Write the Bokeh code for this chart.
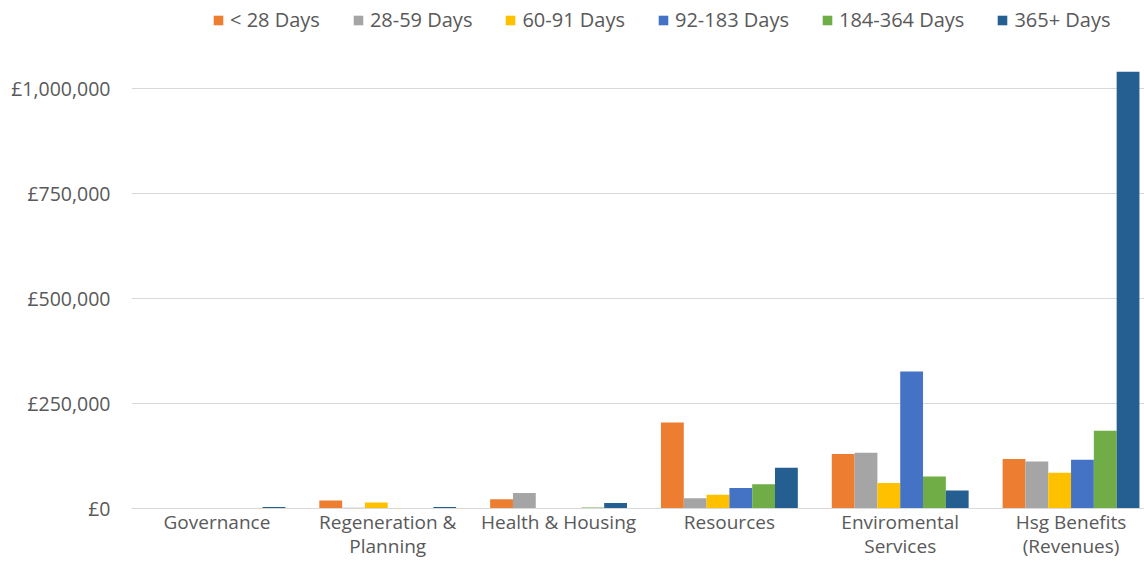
from bokeh.plotting import figure
from bokeh.models import ColumnDataSource, FixedTicker, Legend, LegendItem, Range1d
from bokeh.transform import dodge
from bokeh.embed import file_html
from bokeh.resources import INLINE

# ---- data ----
categories = ["Governance", "Regeneration &\nPlanning", "Health & Housing",
              "Resources", "Enviromental\nServices", "Hsg Benefits\n(Revenues)"]
series_names = ["< 28 Days", "28-59 Days", "60-91 Days", "92-183 Days", "184-364 Days", "365+ Days"]
lt_28 = [0, 19000, 22000, 205000, 130000, 118000]
d_28_59 = [0, 2000, 37000, 24500, 133000, 112000]
d_60_91 = [0, 14000, 0, 33000, 61000, 85000]
d_92_183 = [0, 0, 0, 49000, 326000, 116000]
d_184_364 = [0, 0, 2500, 58000, 76000, 185000]
d_365_plus = [3500, 3500, 13000, 97000, 43000, 1040000]
y_ticks = [0, 250000, 500000, 750000, 1000000]
y_tick_labels = ["£0", "£250,000", "£500,000", "£750,000", "£1,000,000"]

colors = ["#ED7D31", "#A5A5A5", "#FFC000", "#4472C4", "#70AD47", "#255E91"]
TXT = "#595959"
GRID = "#D9D9D9"
FONT = "Open Sans"

series = [lt_28, d_28_59, d_60_91, d_92_183, d_184_364, d_365_plus]
keys = ["s%d" % i for i in range(len(series))]
xs = [i + 0.5 for i in range(len(categories))]
data = {"x": xs}
for k, s in zip(keys, series):
    data[k] = s
src = ColumnDataSource(data)

p = figure(width=1144, height=566, output_backend="svg", toolbar_location=None,
           x_range=Range1d(0, 5.93), y_range=Range1d(0, 1209500),
           min_border_left=131, min_border_right=0, min_border_top=0, min_border_bottom=58)
p.outline_line_color = None
p.background_fill_color = "white"
p.border_fill_color = "white"

bw = 0.1335
items = []
for i, (k, name, c) in enumerate(zip(keys, series_names, colors)):
    off = (i - 2.5) * bw
    r = p.vbar(x=dodge("x", off), top=k, width=bw, source=src, fill_color=c, line_color=None)
    items.append(LegendItem(label=name, renderers=[r]))

# axes
p.xgrid.grid_line_color = None
p.ygrid.grid_line_color = GRID
p.ygrid.grid_line_width = 1
p.ygrid.ticker = FixedTicker(ticks=y_ticks)

p.yaxis.ticker = FixedTicker(ticks=y_ticks)
p.yaxis.major_label_overrides = {t: l for t, l in zip(y_ticks, y_tick_labels)}
p.yaxis.axis_line_color = None
p.yaxis.major_tick_line_color = None
p.yaxis.minor_tick_line_color = None
p.yaxis.major_label_standoff = 15
p.yaxis.major_label_text_color = TXT
p.yaxis.major_label_text_font = FONT
p.yaxis.major_label_text_font_size = "19.5px"

p.xaxis.ticker = FixedTicker(ticks=xs)
p.xaxis.major_label_overrides = {x: c for x, c in zip(xs, categories)}
p.xaxis.axis_line_color = GRID
p.xaxis.major_tick_line_color = None
p.xaxis.minor_tick_line_color = None
p.xaxis.major_tick_out = 0
p.xaxis.major_tick_in = 0
p.xaxis.major_label_standoff = 0
p.xaxis.major_label_text_line_height = 0.95
p.xaxis.major_label_text_color = TXT
p.xaxis.major_label_text_font = FONT
p.xaxis.major_label_text_font_size = "19px"

legend = Legend(items=items, orientation="horizontal", location=(81, 475),
                glyph_width=12, glyph_height=12, label_standoff=6, spacing=32,
                padding=0, margin=0, border_line_color=None, background_fill_alpha=0,
                label_text_color=TXT, label_text_font=FONT, label_text_font_size="20px")
p.add_layout(legend, "center")

open("out.html", "w").write(file_html(p, INLINE))
